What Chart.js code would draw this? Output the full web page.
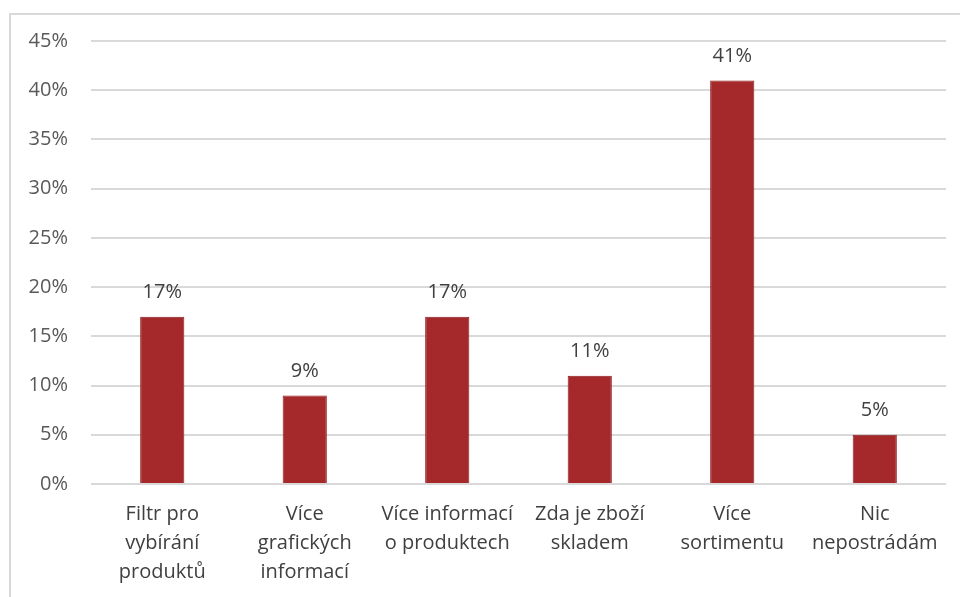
<!DOCTYPE html>
<html>
<head>
<meta charset="utf-8">
<script src="https://cdn.jsdelivr.net/npm/chart.js@4"></script>
<style>
  html, body { margin: 0; padding: 0; width: 960px; height: 597px; overflow: hidden; background: #fff; }
  #frame { position: absolute; left: 9px; top: 13px; width: 1000px; height: 700px; border: 2px solid #d9d9d9; }
  #wrap { position: absolute; left: 0; top: 0; width: 960px; height: 597px; }
</style>
</head>
<body>
<div id="frame"></div>
<div id="wrap"><canvas id="barChart"></canvas></div>
<script>
// survey answers (share of respondents, %)
const categories = [
  ["Filtr pro", "vybírání", "produktů"],
  ["Více", "grafických", "informací"],
  ["Více informací", "o produktech"],
  ["Zda je zboží", "skladem"],
  ["Více", "sortimentu"],
  ["Nic", "nepostrádám"]
];
const shares = [17, 9, 17, 11, 41, 5];
const yTicks = [0, 5, 10, 15, 20, 25, 30, 35, 40, 45];

const barCanvas = document.getElementById("barChart");
const fontFamily = "'Open Sans', 'Liberation Sans', sans-serif";

// value labels above each bar
const valueLabels = {
  id: "valueLabels",
  afterDatasetsDraw(chart) {
    const ctx = chart.ctx;
    const meta = chart.getDatasetMeta(0);
    ctx.save();
    ctx.font = "20px " + fontFamily;
    ctx.fillStyle = "#404040";
    ctx.textAlign = "center";
    ctx.textBaseline = "middle";
    meta.data.forEach((bar, i) => {
      ctx.fillText(shares[i] + "%", bar.x, bar.y - 24);
    });
    ctx.restore();
  }
};

new Chart(barCanvas, {
  type: "bar",
  data: {
    labels: categories,
    datasets: [{
      data: shares,
      backgroundColor: "#a5282b",
      borderColor: "#8c1c1f",
      borderWidth: 1,
      barPercentage: 0.31,
      categoryPercentage: 1
    }]
  },
  options: {
    responsive: true,
    maintainAspectRatio: false,
    animation: false,
    layout: { padding: { left: 0, right: 14, top: 41, bottom: 0 } },
    plugins: { legend: { display: false }, tooltip: { enabled: false } },
    scales: {
      x: {
        grid: { display: false, drawTicks: false },
        border: { display: false },
        ticks: {
          color: "#404040",
          padding: 16,
          font: { family: fontFamily, size: 20, lineHeight: 1.45 },
          maxRotation: 0,
          autoSkip: false
        },
        afterFit(scale) { scale.height = 113; }
      },
      y: {
        min: 0,
        max: 45,
        afterBuildTicks(scale) { scale.ticks = yTicks.map(v => ({ value: v })); },
        grid: { color: "#d9d9d9", lineWidth: 2, drawTicks: false },
        border: { display: false },
        ticks: {
          color: "#595959",
          padding: 23,
          font: { family: fontFamily, size: 20 },
          callback: v => v + "%"
        },
        afterFit(scale) { scale.width = 91; }
      }
    }
  },
  plugins: [valueLabels]
});
</script>
</body>
</html>
